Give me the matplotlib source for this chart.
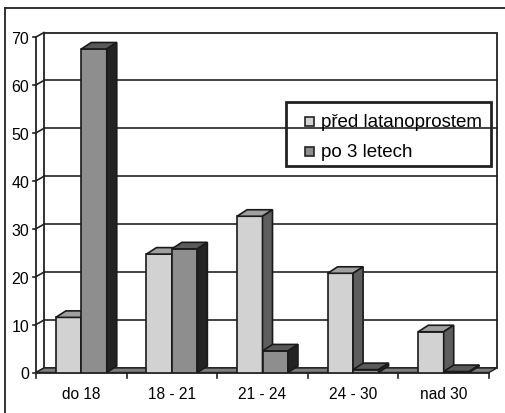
import matplotlib
matplotlib.use("Agg")
import matplotlib.pyplot as plt
from matplotlib.patches import Polygon, Rectangle
from matplotlib.lines import Line2D

categories = ["do 18", "18 - 21", "21 - 24", "24 - 30", "nad 30"]
pred = [11.5, 24.7, 32.6, 20.7, 8.5]
po = [67.5, 25.8, 4.5, 0.6, 0.2]
series_names = ["před latanoprostem", "po 3 letech"]
yticks = [0, 10, 20, 30, 40, 50, 60, 70]

plt.rcParams['font.family'] = ['Liberation Sans', 'DejaVu Sans']

W, H = 506, 414
fig = plt.figure(figsize=(W / 100, H / 100), dpi=100)
# front plane axes (pixels)
L, R, B, T = 36, 489, 373.5, 38
ax = fig.add_axes([L / W, 1 - B / H, (R - L) / W, (B - T) / H])
ax.set_xlim(-0.5, 4.5)
ax.set_ylim(0, 70)
for s in ax.spines.values():
    s.set_visible(False)
ax.patch.set_alpha(0)

ppx = (R - L) / 5.0   # px per category unit
ppy = (B - T) / 70.0  # px per value unit

def off(dx_px, dy_px):
    return dx_px / ppx, dy_px / ppy

def fx(px):
    return px / W

def fy(py):
    return 1 - py / H

# outer frame (top & left only visible)
fig.add_artist(Line2D([fx(4.5), fx(4.5)], [0, fy(9)], color='#222', lw=1.3))
fig.add_artist(Line2D([fx(4.5), 1], [fy(9), fy(9)], color='#222', lw=1.3))

# back wall
wdx, wdy = off(8, 4.5)
wall = Polygon([(-0.5 + wdx, wdy), (4.5 + wdx, wdy), (4.5 + wdx, 70 + wdy), (-0.5 + wdx, 70 + wdy)],
               closed=True, facecolor='white', edgecolor='#222', lw=1.3, clip_on=False, zorder=1)
ax.add_patch(wall)
for v in yticks[1:-1]:
    ax.plot([-0.5 + wdx, 4.5 + wdx], [v + wdy, v + wdy], color='#222', lw=1.2, clip_on=False, zorder=1.5)
# left wall lines
for v in yticks:
    ax.plot([-0.5, -0.5 + wdx], [v, v + wdy], color='#222', lw=1.2, clip_on=False, zorder=1.5)
    ax.plot([-0.5 - 3 / ppx, -0.5], [v, v], color='#222', lw=1.2, clip_on=False, zorder=1.5)
ax.plot([-0.5, -0.5], [0, 70], color='#222', lw=1.3, clip_on=False, zorder=1.6)

# floor
floor = Polygon([(-0.5, 0), (4.5, 0), (4.5 + wdx, wdy), (-0.5 + wdx, wdy)], closed=True,
                facecolor='#7d7d7d', edgecolor='#222', lw=1.0, clip_on=False, zorder=1.7)
ax.add_patch(floor)
ax.plot([-0.5, 4.5], [0, 0], color='#222', lw=1.3, clip_on=False, zorder=1.8)
for i in range(6):
    ax.plot([i - 0.5, i - 0.5], [0, -5 / ppy], color='#222', lw=1.2, clip_on=False, zorder=1.8)

# bars
bw = 0.281
bdx, bdy = off(10, 6.5)
styles = [dict(front='#d2d2d2', top='#a0a0a0', side='#5e5e5e'),
          dict(front='#8e8e8e', top='#595959', side='#232323')]
z = 3
for i in range(len(categories)):
    for k, vals in enumerate([pred, po]):
        v = vals[i]
        x0 = i - bw + k * bw
        x1 = x0 + bw
        st = styles[k]
        ax.bar(x0, v, width=bw, align='edge', color=st['front'], edgecolor='#1a1a1a', lw=1.2, zorder=z)
        ax.add_patch(Polygon([(x0, v), (x1, v), (x1 + bdx, v + bdy), (x0 + bdx, v + bdy)], closed=True,
                             facecolor=st['top'], edgecolor='#1a1a1a', lw=1.2, zorder=z, clip_on=False))
        ax.add_patch(Polygon([(x1, 0), (x1 + bdx, bdy), (x1 + bdx, v + bdy), (x1, v)], closed=True,
                             facecolor=st['side'], edgecolor='#1a1a1a', lw=1.2, zorder=z, clip_on=False))
        z += 0.1

ax.set_xticks(range(5))
ax.set_xticklabels(categories, fontsize=11.2)
ax.tick_params(axis='x', length=0, pad=10)
ax.set_yticks(yticks)
ax.set_yticklabels([str(t) for t in yticks], fontsize=11.5)
ax.tick_params(axis='y', length=0, pad=5)

# legend (drawn as figure artists, transparent box)
fig.add_artist(Rectangle((fx(286), fy(167)), fx(491) - fx(286), fy(103) - fy(167),
                         transform=fig.transFigure, facecolor='none', edgecolor='#222', lw=2, zorder=10))
for k, name in enumerate(series_names):
    cy = 122.7 + 30 * k
    fig.add_artist(Rectangle((fx(305.5), fy(cy + 4.5)), fx(9), 9 / H, transform=fig.transFigure,
                             facecolor=styles[k]['front'], edgecolor='#222', lw=1.2, zorder=10))
    fig.text(fx(321), fy(cy), name, fontsize=13.5, va='center', ha='left', zorder=10)

fig.savefig('out.png', dpi=100)
